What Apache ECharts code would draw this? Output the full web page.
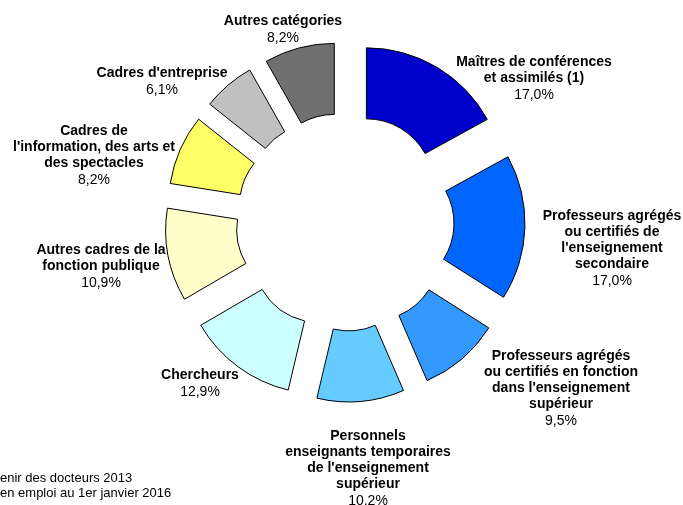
<!DOCTYPE html>
<html>
<head>
<meta charset="utf-8">
<script src="https://cdn.jsdelivr.net/npm/echarts@6/dist/echarts.min.js"></script>
<style>
  html, body { margin: 0; padding: 0; background: #fff; }
  #chart { width: 683px; height: 505px; }
</style>
</head>
<body>
<div id="chart"></div>
<script>
const categories = [
  "Maîtres de conférences\net assimilés (1)",
  "Professeurs agrégés\nou certifiés de\nl'enseignement\nsecondaire",
  "Professeurs agrégés\nou certifiés en fonction\ndans l'enseignement\nsupérieur",
  "Personnels\nenseignants temporaires\nde l'enseignement\nsupérieur",
  "Chercheurs",
  "Autres cadres de la\nfonction publique",
  "Cadres de\nl'information, des arts et\ndes spectacles",
  "Cadres d'entreprise",
  "Autres catégories"
];
const values = [17.0, 17.0, 9.5, 10.2, 12.9, 10.9, 8.2, 6.1, 8.2];
const colors = ["#0000CC", "#0066FF", "#3399FF", "#66CCFF", "#CCFFFF", "#FFFFCC", "#FFFF66", "#C0C0C0", "#707070"];
const noteLines = ["enir des docteurs 2013", "en emploi au 1er janvier 2016"];

// label anchor points (layout only)
const labelPos = [
  [534, 79], [612, 249], [561, 389], [368, 469], [200, 384],
  [101, 267], [94, 156], [162, 82], [283, 30]
];

const chart = echarts.init(document.getElementById('chart'));
const fontFamily = "'Liberation Sans', Arial, sans-serif";

const data = categories.map((name, i) => ({
  name: name,
  value: values[i],
  selected: true,
  itemStyle: { color: colors[i] }
}));

const fmt = v => v.toFixed(1).replace('.', ',') + '%';

const labelGraphics = categories.map((name, i) => ({
  type: 'text',
  x: labelPos[i][0],
  y: labelPos[i][1],
  silent: true,
  style: {
    text: '{b|' + name + '}\n{v|' + fmt(values[i]) + '}',
    align: 'center',
    verticalAlign: 'middle',
    rich: {
      b: { fontFamily: fontFamily, fontSize: 14, fontWeight: 'bold', fill: '#000', lineHeight: 16, align: 'center' },
      v: { fontFamily: fontFamily, fontSize: 14, fill: '#000', lineHeight: 17, align: 'center' }
    }
  }
}));

chart.setOption({
  animation: false,
  series: [{
    type: 'pie',
    center: [345, 222],
    radius: [67, 138],
    startAngle: 90,
    clockwise: true,
    selectedMode: 'multiple',
    selectedOffset: 42,
    itemStyle: { borderColor: '#000', borderWidth: 1 },
    select: { itemStyle: { borderColor: '#000', borderWidth: 1 } },
    emphasis: { disabled: true },
    label: { show: false },
    labelLine: { show: false },
    data: data
  }],
  graphic: labelGraphics.concat([{
    type: 'text',
    left: 0,
    top: 471,
    style: {
      text: noteLines.join('\n'),
      font: "13px " + fontFamily,
      fill: '#000',
      lineHeight: 15
    }
  }])
});
</script>
</body>
</html>
